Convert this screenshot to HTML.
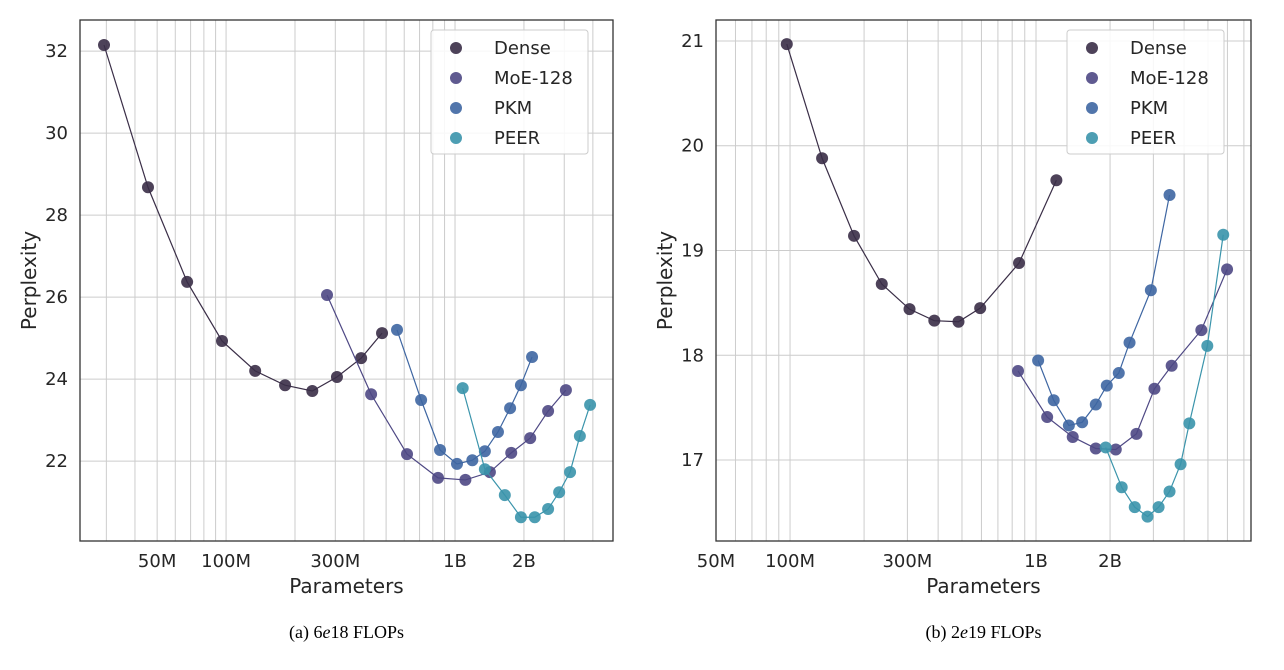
<!DOCTYPE html>
<html><head><meta charset="utf-8"><style>
body{margin:0;background:#fff;width:1284px;height:670px;overflow:hidden}
svg{position:absolute;left:0;top:0}
text{font-family:"DejaVu Sans","Liberation Sans",sans-serif}
.cap{font-family:"Liberation Serif",serif;font-size:18px}
</style></head><body>
<svg id="c" width="1284" height="670"></svg>
<script>
const seriesNames=["Dense","MoE-128","PKM","PEER"];
const colors=["#3a2e47","#4e4884","#3e66a2","#3a94ab"];
// left chart (6e18) parameters in millions, perplexity
const aDenseX=[29.3,45.6,67.6,96,134,181,238,305,389,480];
const aDenseY=[32.15,28.68,26.37,24.93,24.2,23.85,23.71,24.05,24.51,25.12];
const aMoeX=[276,430,617,843,1110,1420,1760,2130,2550,3050];
const aMoeY=[26.05,23.63,22.17,21.59,21.54,21.73,22.2,22.56,23.22,23.73];
const aPkmX=[558,711,860,1020,1190,1350,1540,1740,1940,2170];
const aPkmY=[25.2,23.49,22.27,21.93,22.02,22.24,22.71,23.29,23.85,24.54];
const aPeerX=[1080,1350,1650,1940,2230,2550,2850,3180,3510,3890];
const aPeerY=[23.78,21.8,21.17,20.63,20.63,20.83,21.24,21.73,22.61,23.37];
// right chart (2e19)
const bDenseX=[97,135,182,236,306,386,484,593,853,1210];
const bDenseY=[20.97,19.88,19.14,18.68,18.44,18.33,18.32,18.45,18.88,19.67];
const bMoeX=[845,1110,1410,1750,2110,2560,3030,3560,4700,5980];
const bMoeY=[17.85,17.41,17.22,17.11,17.1,17.25,17.68,17.9,18.24,18.82];
const bPkmX=[1020,1180,1360,1540,1750,1940,2170,2400,2930,3490];
const bPkmY=[17.95,17.57,17.33,17.36,17.53,17.71,17.83,18.12,18.62,19.53];
const bPeerX=[1920,2230,2520,2840,3150,3490,3870,4200,4970,5770];
const bPeerY=[17.12,16.74,16.55,16.46,16.55,16.70,16.96,17.35,18.09,19.15];
const xTickVals=[50,100,300,1000,2000];
const xTickLabels=["50M","100M","300M","1B","2B"];
const aYTicks=[22,24,26,28,30,32];
const bYTicks=[17,18,19,20,21];

const svg=document.getElementById('c');
const NS="http://www.w3.org/2000/svg";
function mk(tag,attrs,parent){const e=document.createElementNS(NS,tag);for(const k in attrs)e.setAttribute(k,attrs[k]);(parent||svg).appendChild(e);return e;}

function chart(cfg){
  const g=mk('g',{});
  
  
  const {L,R,T,B,xmin,xmax,ymin,ymax}=cfg;
  const xs=v=>L+(Math.log10(v*1e6)-xmin)/(xmax-xmin)*(R-L);
  const ys=v=>B-(v-ymin)/(ymax-ymin)*(B-T);
  for(let d=7;d<=10;d++)for(let k=1;k<10;k++){
    const lv=d+Math.log10(k); if(lv<=xmin+0.002||lv>=xmax)continue;
    const x=L+(lv-xmin)/(xmax-xmin)*(R-L);
    const ln=mk('line',{x1:x,x2:x,y1:T,y2:B,stroke:'#cccccc','stroke-width':1},g);
    
    
  }
  cfg.yt.forEach(v=>{
    const y=ys(v);
    const ln=mk('line',{x1:L,x2:R,y1:y,y2:y,stroke:'#cccccc','stroke-width':1},g);
    
    
    const t=mk('text',{x:L-12,y:y+6,'text-anchor':'end','font-size':18,fill:'#262626'},g);
    t.textContent=v;
    
    
  });
  xTickVals.forEach((v,i)=>{
    const t=mk('text',{x:xs(v),y:B+26,'text-anchor':'middle','font-size':18,fill:'#262626'},g);
    t.textContent=xTickLabels[i];
    
    
  });
  const fr=mk('rect',{x:L,y:T,width:R-L,height:B-T,fill:'none',stroke:'#333','stroke-width':1.3},g);
  
  
  const xt=mk('text',{x:(L+R)/2,y:B+52,'text-anchor':'middle','font-size':20,fill:'#262626'},g);
  xt.textContent='Parameters';
  
  
  const yt=mk('text',{x:0,y:0,'text-anchor':'middle','font-size':20,fill:'#262626',transform:`translate(${L-44},${(T+B)/2}) rotate(-90)`},g);
  yt.textContent='Perplexity';
  
  
  cfg.series.forEach((s,si)=>{
    const pts=s[0].map((x,i)=>xs(x)+','+ys(s[1][i])).join(' ');
    const pl=mk('polyline',{points:pts,fill:'none',stroke:colors[si],'stroke-width':1.2},g);
    
    
    s[0].forEach((x,i)=>{
      const c=mk('circle',{cx:xs(x),cy:ys(s[1][i]),r:6,fill:colors[si],'fill-opacity':0.9},g);
      
      
    });
  });
  const lx=cfg.lx,ly=30;
  const lr=mk('rect',{x:lx,y:ly,width:157,height:124,rx:3,fill:'#fff','fill-opacity':0.85,stroke:'#ccc'},g);
  
  
  seriesNames.forEach((n,i)=>{
    const c=mk('circle',{cx:lx+25,cy:ly+18+i*30,r:6,fill:colors[i],'fill-opacity':0.9},g);
    
    
    const t=mk('text',{x:lx+63,y:ly+24+i*30,'font-size':18,fill:'#262626'},g);
    t.textContent=n;
    
    
  });
  const cp=mk('text',{x:(L+R)/2,y:638,'text-anchor':'middle',class:'cap',fill:'#000'},g);
  cp.innerHTML=cfg.caption;
  
  
}
chart({name:'chart-6e18',L:80,R:613,T:20,B:541,xmin:7.362,xmax:9.69,ymin:20.05,ymax:32.76,yt:aYTicks,lx:431,caption:'(a) 6<tspan font-style="italic">e</tspan>18 FLOPs',
 series:[[aDenseX,aDenseY],[aMoeX,aMoeY],[aPkmX,aPkmY],[aPeerX,aPeerY]]});
chart({name:'chart-2e19',L:716,R:1251,T:20,B:541,xmin:7.699,xmax:9.874,ymin:16.227,ymax:21.2,yt:bYTicks,lx:1067,caption:'(b) 2<tspan font-style="italic">e</tspan>19 FLOPs',
 series:[[bDenseX,bDenseY],[bMoeX,bMoeY],[bPkmX,bPkmY],[bPeerX,bPeerY]]});
</script>
</body></html>
